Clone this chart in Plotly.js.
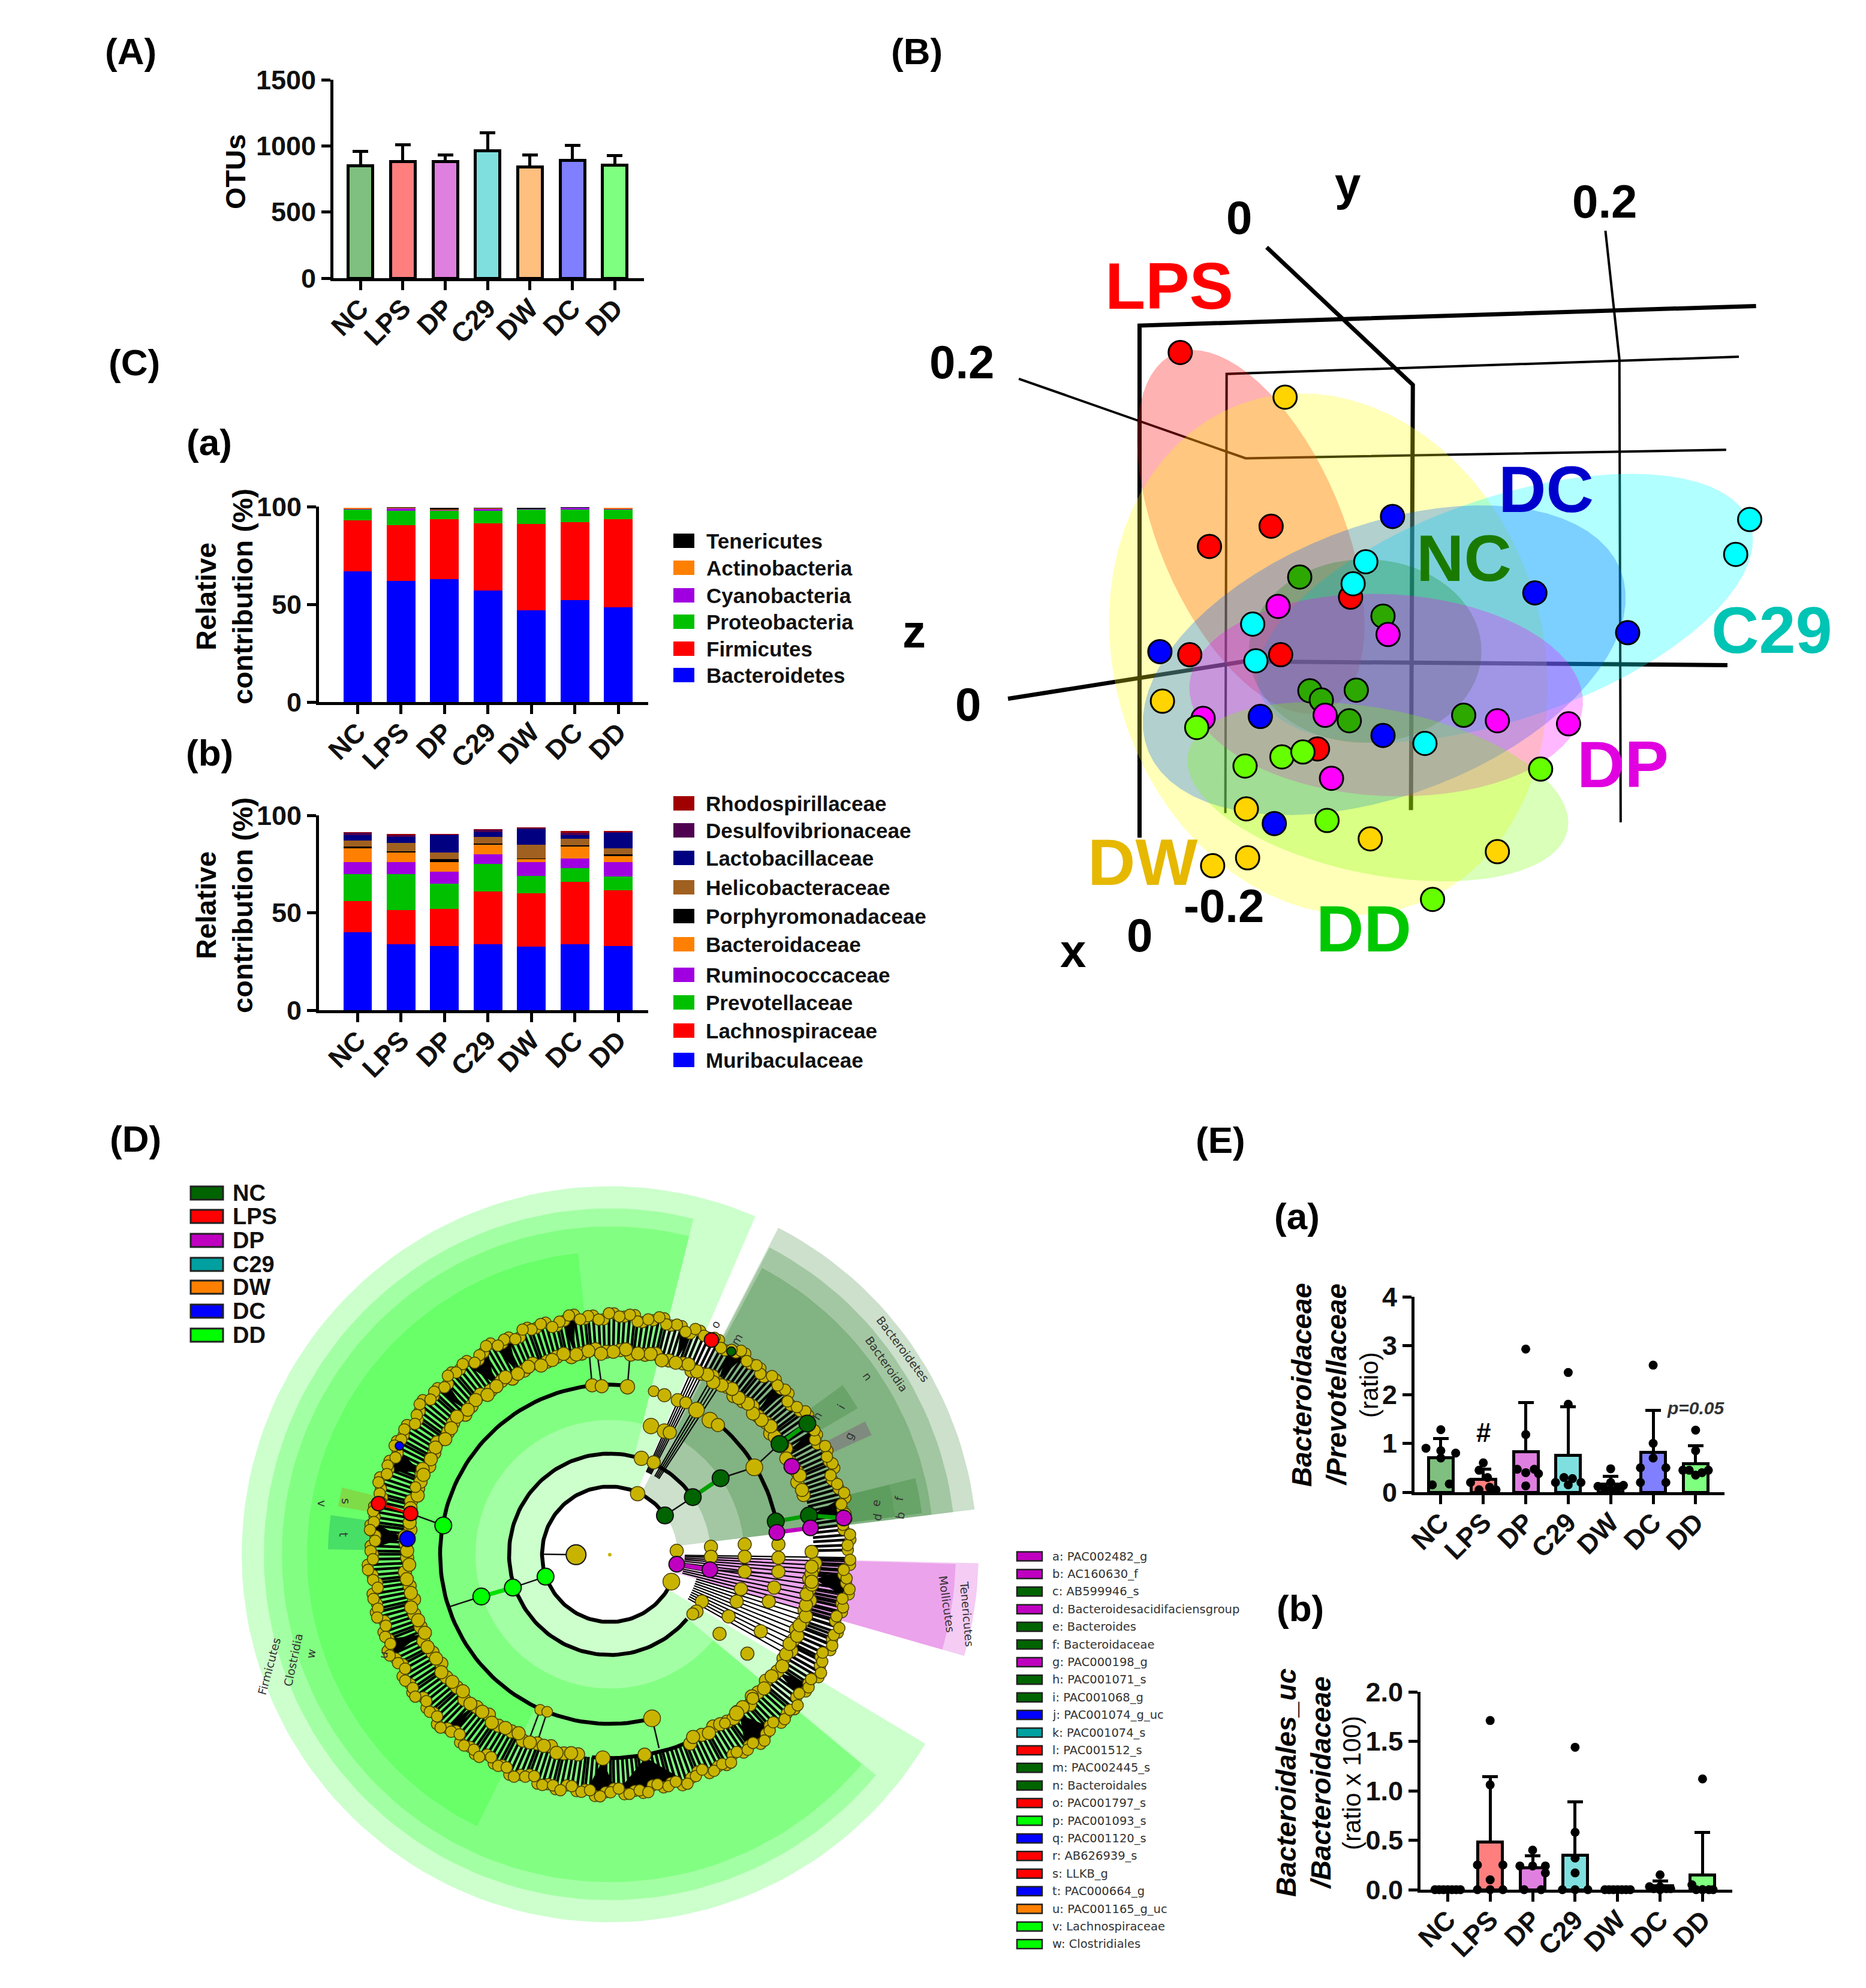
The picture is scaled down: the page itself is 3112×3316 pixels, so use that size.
<!DOCTYPE html>
<html><head><meta charset="utf-8">
<script src="https://cdn.plot.ly/plotly-3.0.1.min.js"></script>
<style>html,body{margin:0;padding:0;background:#fff}</style></head><body>
<div id="chart" style="width:3112px;height:3316px"></div>
<script>
// ---------- data ----------
const groups = ['NC','LPS','DP','C29','DW','DC','DD'];
const groupColors = ['#7fbf7f','#ff7f7f','#df7fdf','#7fdfdf','#ffbf7f','#7f7fff','#7fff7f'];
const otuMean = [850,880,880,965,840,890,855];
const otuErr = [110,130,50,135,90,115,70];

const phylumNames = ['Bacteroidetes','Firmicutes','Proteobacteria','Cyanobacteria','Actinobacteria','Tenericutes'];
const phylumColors = ['#0000ff','#ff0000','#00c000','#a000e0','#ff8000','#000000'];
const phylumValues = [
 [67,62,63,57,47,52,48.5],
 [26,28.5,30.5,34.5,44,40,45],
 [5.5,7.5,4.5,6.5,7.5,6.5,5],
 [0.4,1,0.3,0.8,0.2,0.8,0.3],
 [0.4,0.3,0.3,0.3,0.2,0.2,0.5],
 [0.1,0.4,0.8,0.2,0.5,0.2,0.2]];
const familyNames = ['Muribaculaceae','Lachnospiraceae','Prevotellaceae','Ruminococcaceae','Bacteroidaceae','Porphyromonadaceae','Helicobacteraceae','Lactobacillaceae','Desulfovibrionaceae','Rhodospirillaceae'];
const familyColors = ['#0000ff','#ff0000','#00c000','#a000e0','#ff8000','#000000','#a06020','#000080','#500050','#a00000'];
const familyValues = [
 [40,34,33,34,32.5,34,33],
 [16,17.5,19,27,27.5,32,28.5],
 [14,18.5,13,14,9,7,7],
 [6,6,6,5,7,5,7.5],
 [7,5,5,5,1.5,6,3],
 [1,0.5,1.5,0.5,0.5,0.5,1],
 [3,4.5,3.5,3.5,7,3.5,3],
 [3,3,9,2.5,8,2,8],
 [1,1,0.2,1,0.5,1,0.5],
 [0.5,0.5,0.3,0.5,0.3,1,0.5]];

const ratioAMean = [0.7,0.27,0.83,0.76,0.17,0.82,0.58];
const ratioAErr = [0.4,0.2,1.01,0.99,0.15,0.86,0.37];
const ratioADotsX = [
 [0,-0.35,0,0.35,0,-0.2,0.2],[0,-0.1,0.1,-0.3,0.3,-0.1,0.15],[0,0,-0.2,0.2,0,0.3,0],
 [0,0,-0.1,0.1,-0.3,0.3,0],[0,0,-0.3,0.3,-0.15,0.15,0],[0,0,-0.3,0.3,0,-0.3,0.3],[0,0,-0.3,0.3,0,-0.15,0.15]];
const ratioADotsY = [
 [1.28,0.9,0.85,0.8,0.7,0.15,0.17],[0.6,0.45,0.3,0.2,0.05,0.05,0.1],[2.93,1.18,0.47,0.47,0.4,0.38,0.13],
 [2.45,1.8,0.3,0.28,0.2,0.2,0.15],[0.48,0.2,0.12,0.14,0.07,0.07,0.05],[2.6,1,0.5,0.5,0.7,0.2,0.2],[1.27,0.85,0.45,0.45,0.35,0.45,0.4]];
const ratioBMean = [0.01,0.48,0.22,0.35,0.005,0.04,0.15];
const ratioBErr = [0,0.66,0.12,0.54,0,0.05,0.43];
const ratioBDotsX = [
 [-0.3,-0.2,-0.1,0,0.1,0.2,0.3],[0,0,-0.3,0.3,0,-0.3,0.3,0],[0,-0.3,0,0.3,0.3,-0.2,0.2],
 [0,0,0,0,-0.3,0,0.3],[-0.3,-0.2,-0.1,0,0.1,0.2,0.3],[0,-0.25,0,0.25,-0.15,0.15,0],[0,-0.25,0,0.25,-0.15,0.15,0]];
const ratioBDotsY = [
 [0,0,0,0,0,0,0],[1.71,1.06,0.25,0.25,0.1,0,0,0],[0.4,0.24,0.24,0.24,0.17,0,0],
 [1.44,0.58,0.32,0.17,0,0,0],[0,0,0,0,0,0,0],[0.15,0.03,0.03,0.01,0.01,0.01,0],[1.12,0.05,0,0,0,0,0]];

// PCoA points, read in the panel's own scale
const pcoaSeries = [
 {name:'LPS', color:'#ff0000', x:[489,535,632,757,504,647,705], y:[537,854,821,937,1031,1031,1185]},
 {name:'NC', color:'#2ca800', x:[677,808,693,711,766,755,935], y:[904,968,1090,1105,1089,1139,1130]},
 {name:'DC', color:'#0000ff', x:[823,1047,1193,457,615,808,637], y:[805,930,995,1026,1132,1163,1307]},
 {name:'DW', color:'#ffd400', x:[654,461,593,595,540,788,988], y:[610,1107,1283,1363,1376,1332,1353]},
 {name:'DP', color:'#ff00ff', x:[643,816,525,717,988,1100,727], y:[952,998,1135,1130,1139,1144,1233]},
 {name:'C29', color:'#00ffff', x:[1385,1363,781,761,603,608,874], y:[810,867,879,915,981,1041,1176]},
 {name:'DD', color:'#66ff00', x:[515,591,649,682,720,1056,886], y:[1150,1213,1198,1190,1302,1218,1431]}];
// centre x, centre y, half long, half short, tilt, fill
const pcoaEllipses = [
 [600,830,315,145,68,'rgba(255,0,0,0.30)'],
 [722,1030,432,338,75,'rgba(255,255,0,0.28)'],
 [1000,955,410,180,-20,'rgba(0,255,255,0.30)'],
 [810,1040,400,220,-22,'rgba(0,100,255,0.30)'],
 [780,1025,183,150,0,'rgba(0,128,0,0.25)'],
 [813,1097,310,165,3,'rgba(255,0,255,0.28)'],
 [800,1255,305,135,12,'rgba(120,255,0,0.28)']];
const pcoaFrame = [
 {w:7,x:[425,425,1395],y:[1330,493,461]},
 {w:7,x:[625,855,852],y:[365,590,1285]},
 {w:4,x:[560,562,1368],y:[1290,572,544]},
 {w:4,x:[1158,1180,1182],y:[338,548,1305]},
 {w:4,x:[235,592,1348],y:[580,710,696]},
 {w:7,x:[218,590,1350],y:[1103,1042,1048]}];
const pcoaGroupLabels = [['LPS',472,428,'#ff0000'],['DC',1065,760,'#0000cc'],['NC',935,873,'#1a7a00'],['C29',1420,990,'#00c4b4'],['DP',1185,1210,'#e000e0'],['DW',430,1370,'#e6b800'],['DD',778,1478,'#00c800']];
const pcoaAxisLabels = [['0.2',145,553],['0',155,1112],['z',70,993],['y',752,262],['0',582,317],['0.2',1157,290],['-0.2',558,1442],['0',425,1490],['x',320,1515]];

// cladogram: clade sectors  [inner r, outer r, from deg, to deg, fill]
const cladeSectors = [
 [113,614,66.7,329,'rgba(0,255,0,0.2)'],
 [168,577,76,320.3,'rgba(0,255,0,0.2)'],
 [224,547,76,320.2,'rgba(0,255,0,0.2)'],
 [282,505,96,244,'rgba(0,255,0,0.2)'],
 [113,613,7,62.7,'rgba(0,100,0,0.2)'],
 [168,577,7,62.5,'rgba(0,100,0,0.2)'],
 [224,541,7,62,'rgba(0,100,0,0.2)'],
 [113,615,-16,-1.4,'rgba(200,0,200,0.2)'],
 [168,577,-16,-1.6,'rgba(200,0,200,0.2)'],
 [400,470,172,179,'rgba(0,150,100,0.3)'],
 [400,460,166,170,'rgba(180,140,0,0.3)'],
 [405,480,30.5,36,'rgba(0,100,0,0.18)'],
 [405,480,24.5,27.5,'rgba(120,0,120,0.22)'],
 [405,480,7.5,14,'rgba(0,100,0,0.28)'],
 [480,525,7.5,14,'rgba(0,100,0,0.2)']];
// thick arcs [radius, from deg, to deg]
const cladeArcs = [[113,37,334],[168,34,320],[283,84,284],[283,14,48],[340,265,310]];
const cladeWedges = [[71,1.5],[58,2],[100,1.5],[117,2],[124,3],[156.5,3],[175.5,3],[268,3.5],[280,8],[309,4],[11,2.5],[353,3],[325,2],[135,1.5],[203,2],[228,1.5],[30,1.5],[44,1.5]];
const outerLeafAngles = [1,3.5,6,8.5,11,13.5,16,18.5,21,23,25.5,28,30,32.5,35,37,39.5,42,44,46.5,49,51,53.5,56,58,60.5,63,65.5,68,70,72.5,75,77,79.5,82,84,86.5,89,91.5,94,96,98.5,101,103,105.5,108,110,112.5,115,117,119.5,122,124,126.5,129,131,133.5,136,138,140.5,143,145,147.5,150,152,154.5,157,159,161.5,164,166,168.5,171,173,175.5,178,180,182.5,185,187,189.5,192,194,196.5,199,201,203.5,206,208,210.5,213,215,217.5,220,222,224.5,227,229,231.5,234,236,238.5,241,243,245.5,248,250,252.5,255,257,259.5,262,264,266.5,269,271,273.5,276,278,280.5,283,285,287.5,290,292,294.5,297,299,301.5,304,306,308.5,311,313,315.5,318,320,322.5,325,327,329.5,332,334,336.5,339,341,343.5,346,348,350.5,353,355,357.5,
 2.2,4.7,7.2,9.7,12.2,14.7,17.2,19.7,22.2,24.2,26.7,29.2,31.2,33.7,36.2,38.2,40.7,43.2,45.2,47.7,50.2,52.2,54.7,57.2,59.2,61.7,64.2,66.7,69.2,71.2,73.7,76.2,78.2,80.7,83.2,85.2,87.7,90.2,92.7,95.2,97.2,99.7,102.2,104.2,106.7,109.2,111.2,113.7,116.2,118.2,120.7,123.2,125.2,127.7,130.2,132.2,134.7,137.2,139.2,141.7,144.2,146.2,148.7,151.2,153.2,155.7,158.2,160.2,162.7,165.2,167.2,169.7,172.2,174.2,176.7,179.2,181.2,183.7,186.2,188.2,190.7,193.2,195.2,197.7,200.2,202.2,204.7,207.2,209.2,211.7,214.2,216.2,218.7,221.2,223.2,225.7,228.2,230.2,232.7,235.2,237.2,239.7,242.2,244.2,246.7,249.2,251.2,253.7,256.2,258.2,260.7,263.2,265.2,267.7,270.2,272.2,274.7,277.2,279.2,281.7,284.2,286.2,288.7,291.2,293.2,295.7,298.2,300.2,302.7,305.2,307.2,309.7,312.2,314.2,316.7,319.2,321.2,323.7,326.2,328.2,330.7,333.2,335.2,337.7,340.2,342.2,344.7,347.2,349.2,351.7,354.2,356.2,358.7];
const outerLeafRadii = [397,402,392,399,395,404,397,391,401];
const innerLeafAngles = [17,21,24,27,31,34,37,40,43,46,49,52,55,58,60,63,66,69,73,77,80,84,87,91,94,98,101,105,108,112,115,119,122,126,129,133,136,140,143,147,150,154,157,161,165,169,173,177,181,185,189,193,197,201,205,209,213,217,221,225,229,233,237,241,245,249,253,257,261,293,297,301,305,309,313,317,321,325,329,332,335,338,341,344,347,350,353,356,
 18.5,22.5,25.5,28.5,32.5,35.5,38.5,41.5,44.5,47.5,50.5,53.5,56.5,59,61.5,64.5,67.5,71,75,78.5,82,85.5,89,92.5,96,99.5,103,106.5,110,113.5,117,120.5,124,127.5,131,134.5,138,141.5,145,148.5,152,155.5,159,163,167,171,175,179,183,187,191,195,199,203,207,211,215,219,223,227,231,235,239,243,247,251,255,259,294.5,299,303,307,311,315,319,323,327,330.5,333.5,336.5,339.5,342.5,345.5,348.5,351.5,354.5,357.5];
const innerLeafRadii = [338,335,341,338,343];
const allClades = [
 {c:'#006400',s:28,x:[906,958,1010,1113,1175,1120,1172],y:[697,660,622,709,697,553,512]},
 {c:'#c000c0',s:26,x:[1143,1115,1178,1240,928,990],y:[598,731,722,702,795,806]},
 {c:'#00ff00',s:28,x:[683,622,563,492],y:[820,842,860,717]},
 {c:'#ff0000',s:24,x:[431,371,993],y:[693,673,344]},
 {c:'#0000ff',s:26,x:[425],y:[744]},
 {c:'#0000ff',s:14,x:[410],y:[557]},
 {c:'#006400',s:15,x:[1030],y:[367]},
 {c:'#c8b400',s:33,x:[740],y:[776]},
 {c:'#c8b400',s:6,x:[803],y:[776]}];
const midNodesX = [855,862,885,880,905,915,885,905,930,945,965,990,1005,1073,770,788,836,673,686,882,455,440,790,868,1040,1070,1018,928,918,992,992,1055,1055,1055,1118,1118,1118,1180,1180,1180,1048,1040,1025,1110,1100,1085,975,965,958,1008,1060];
const midNodesY = [653,582,590,517,527,530,447,455,465,470,485,505,515,600,435,437,438,1088,1092,1105,615,640,1185,1178,1095,1065,1115,768,830,760,780,755,780,810,755,782,810,770,800,830,845,870,900,842,870,930,870,890,895,935,975];
const midNodesS = [24,24,22,26,24,22,18,22,22,20,26,26,22,28,22,22,24,18,18,28,22,18,24,22,24,20,18,22,28,22,22,22,22,22,22,22,22,22,22,22,22,22,22,22,22,22,22,22,20,22,22];
const thinLinks = [[680,775,740,776],[906,697,958,660],[1010,622,1073,600],[1073,600,1120,553],[683,820,622,842],[563,860,505,880],[492,717,431,693],[770,435,765,375],[788,437,780,375],[836,438,840,385],[673,1088,655,1140],[686,1092,670,1145],[882,1105,895,1165],[990,806,1118,815]];
const greenLinks = [[958,660,1010,622],[1120,553,1172,512],[1113,709,1175,697],[1175,697,1240,702]];
const purpleLinks = [[1115,731,1178,722],[928,795,990,806]];
const limeLinks = [[622,842,563,860]];
const redLinks = [[431,693,371,673]];
const topLeafAngles = [57,58,59,60,62.8,63.6,64.4,65.2,66];
const lowLeafAngles = [-0.8,-1.8,-3,-4.2,-5.5,-7,-8.5,-10,-11.5,-13,-14.5,-16,-17.5,-19,-20.5,-22,-23.5,-25,-26.5,-28,-29.5];
const cladogramLabels = [
 ['Firmicutes',167,1000,-75],['Clostridia',212,987,-78],['w',245,975,-80],['u',380,977,-80],
 ['Bacteroidetes',1350,362,53],['Bacteroidia',1320,392,55],['n',1285,417,55],['i',1235,478,-60],['g',1250,537,-65],['h',1190,497,-60],
 ['f',1343,662,-80],['e',1300,672,-80],['b',1345,697,-80],['d',1303,700,-80],['Tenericutes',1470,895,85],['Mollicutes',1432,875,82],
 ['t',305,735,90],['s',310,668,90],['v',265,673,90],['m',1040,342,-60],['o',1000,312,-60]];

const cladeKeyNames = ['NC','LPS','DP','C29','DW','DC','DD'];
const cladeKeyColors = ['#006400','#ff0000','#c000c0','#00a0a0','#ff8000','#0000ff','#00ff00'];
const biomarkerNames = ['a: PAC002482_g','b: AC160630_f','c: AB599946_s','d: Bacteroidesacidifaciensgroup','e: Bacteroides','f: Bacteroidaceae','g: PAC000198_g','h: PAC001071_s','i: PAC001068_g','j: PAC001074_g_uc','k: PAC001074_s','l: PAC001512_s','m: PAC002445_s','n: Bacteroidales','o: PAC001797_s','p: PAC001093_s','q: PAC001120_s','r: AB626939_s','s: LLKB_g','t: PAC000664_g','u: PAC001165_g_uc','v: Lachnospiraceae','w: Clostridiales'];
const biomarkerColors = ['#c000c0','#c000c0','#006400','#c000c0','#006400','#006400','#c000c0','#006400','#006400','#0000ff','#00a0a0','#ff0000','#006400','#006400','#ff0000','#00ff00','#0000ff','#ff0000','#ff0000','#0000ff','#ff8000','#00ff00','#00ff00'];

// ---------- layout helpers ----------
const W=3112,H=3316,FF='Liberation Sans';
const layout={width:W,height:H,margin:{l:0,r:0,t:0,b:0},paper_bgcolor:'#fff',plot_bgcolor:'rgba(0,0,0,0)',showlegend:false,barmode:'stack',annotations:[],shapes:[],font:{family:FF,color:'#000'}};
const traces=[];
let axN=1;
function hiddenAxes(x0,x1,y0,y1,xr,yr){
  const n=axN++;
  layout['xaxis'+(n===1?'':n)]={domain:[x0/W,x1/W],range:xr,visible:false,fixedrange:true,anchor:'y'+(n===1?'':n)};
  layout['yaxis'+(n===1?'':n)]={domain:[1-y1/H,1-y0/H],range:yr,visible:false,fixedrange:true,anchor:'x'+(n===1?'':n)};
  return {x:'x'+(n===1?'':n),y:'y'+(n===1?'':n)};
}
function chartAxes(x0,x1,y0,y1,xr,yr,dtick,fmt){
  const n=axN++;
  const common={showgrid:false,zeroline:false,showline:true,linecolor:'#000',linewidth:5,ticks:'outside',ticklen:15,tickwidth:5,tickcolor:'#000',fixedrange:true,tickfont:{family:FF,size:45,weight:700,color:'#111'}};
  layout['xaxis'+n]=Object.assign({},common,{domain:[x0/W,x1/W],range:xr,anchor:'y'+n,tickmode:'array',tickvals:groups.map((g,i)=>i),ticktext:groups,tickangle:-45,ticklabelstandoff:-14});
  layout['yaxis'+n]=Object.assign({},common,{domain:[1-y1/H,1-y0/H],range:yr,anchor:'x'+n,dtick:dtick,tickformat:fmt||''});
  return {x:'x'+n,y:'y'+n};
}
const idx=groups.map((g,i)=>i);
const page=hiddenAxes(0,W,0,H,[0,W],[H,0]);
function note(text,x,y,size,opts){
  layout.annotations.push(Object.assign({text:text,x:x,y:y,xref:page.x,yref:page.y,showarrow:false,xanchor:'center',yanchor:'middle',font:{family:FF,size:size,color:'#000'}},opts||{}));
}
// panel letters
[['(A)',218,85],['(B)',1529,85],['(C)',224,604],['(a)',349,737],['(b)',349,1255],['(D)',226,1899],['(E)',2035,1901],['(a)',2163,2028],['(b)',2168,2682]]
 .forEach(l=>note('<b>'+l[0]+'</b>',l[1],l[2],62));

// ---------- panel A ----------
const a=chartAxes(556,1074,133,464,[-0.64,6.69],[0,1500],500);
traces.push({type:'bar',x:idx,y:otuMean,width:0.58,xaxis:a.x,yaxis:a.y,marker:{color:groupColors,line:{color:'#000',width:5}},error_y:{type:'data',symmetric:false,array:otuErr,arrayminus:otuErr.map(()=>0),color:'#000',thickness:5,width:13}});
note('<b>OTUs</b>',392,287,47,{textangle:-90});

// ---------- panel C ----------
function stacked(names,colors,values,ax){
  names.forEach((n,i)=>traces.push({type:'bar',name:n,x:idx,y:values[i],width:0.66,xaxis:ax.x,yaxis:ax.y,marker:{color:colors[i],line:{width:0}}}));
}
const ca=chartAxes(532,1081,845,1171,[-0.89,6.69],[0,100],50);
const cb=chartAxes(532,1081,1360,1685,[-0.89,6.69],[0,100],50);
stacked(phylumNames,phylumColors,phylumValues,ca);
stacked(familyNames,familyColors,familyValues,cb);
note('<b>Relative<br>contribution (%)</b>',374,995,47,{textangle:-90});
note('<b>Relative<br>contribution (%)</b>',374,1510,47,{textangle:-90});
function key(names,colors,xs,xe,xt,ys,h,size,extra){
  names.forEach((n,i)=>{
    layout.shapes.push({type:'rect',xref:page.x,yref:page.y,x0:xs,x1:xe,y0:ys[i]-h/2,y1:ys[i]+h/2,fillcolor:colors[i],line:extra||{width:0}});
    note(n,xt,ys[i],size,{xanchor:'left',font:{family:extra&&extra.fam||FF,size:size,color:extra&&extra.tc||'#111'}});
  });
}
const phylumRowY=[902,947,993,1037,1082,1126];
const familyRowY=[1340,1385,1431,1480,1528,1575,1626,1672,1719,1768];
key(phylumNames.map(n=>'<b>'+n+'</b>').reverse(),phylumColors.slice().reverse(),1123,1158,1176,phylumRowY,24,35);
key(familyNames.map(n=>'<b>'+n+'</b>').reverse(),familyColors.slice().reverse(),1123,1158,1175,familyRowY,24,35);

// ---------- panel B ----------
const b=hiddenAxes(1450,3112,40,1640,[0,1568],[1568,0]);
pcoaFrame.forEach(f=>traces.push({type:'scatter',mode:'lines',x:f.x,y:f.y,line:{color:'#000',width:f.w},xaxis:b.x,yaxis:b.y,hoverinfo:'skip'}));
pcoaEllipses.forEach(e=>{
  const ex=[],ey=[],t=e[4]*Math.PI/180;
  for(let k=0;k<=72;k++){const p=k*Math.PI/36,u=e[2]*Math.cos(p),v=e[3]*Math.sin(p);ex.push(e[0]+u*Math.cos(t)-v*Math.sin(t));ey.push(e[1]+u*Math.sin(t)+v*Math.cos(t));}
  traces.push({type:'scatter',mode:'lines',x:ex,y:ey,fill:'toself',fillcolor:e[5],line:{width:0},xaxis:b.x,yaxis:b.y,hoverinfo:'skip'});
});
pcoaSeries.forEach(s=>traces.push({type:'scatter',mode:'markers',name:s.name,x:s.x,y:s.y,marker:{size:39,color:s.color,line:{color:'#000',width:3}},xaxis:b.x,yaxis:b.y}));
pcoaGroupLabels.forEach(l=>layout.annotations.push({text:'<b>'+l[0]+'</b>',x:l[1],y:l[2],xref:b.x,yref:b.y,showarrow:false,font:{family:FF,size:110,color:l[3]}}));
pcoaAxisLabels.forEach(l=>layout.annotations.push({text:'<b>'+l[0]+'</b>',x:l[1],y:l[2],xref:b.x,yref:b.y,showarrow:false,font:{family:FF,size:78,color:'#000'}}));

// ---------- panel D ----------
const d=hiddenAxes(300,1700,1950,3250,[0,1568],[1568,0]);
const CX=803,CY=775,SX=1.12,SY=1.206;
const px=(r,deg)=>CX+r*SX*Math.cos(deg*Math.PI/180);
const py=(r,deg)=>CY-r*SY*Math.sin(deg*Math.PI/180);
function dLine(xs,ys,color,w){traces.push({type:'scatter',mode:'lines',x:xs,y:ys,line:{color:color,width:w},xaxis:d.x,yaxis:d.y,hoverinfo:'skip',connectgaps:false});}
cladeSectors.forEach(s=>{
  const xs=[],ys=[],n=Math.max(4,Math.ceil(Math.abs(s[3]-s[2])/2));
  for(let k=0;k<=n;k++){const g=s[2]+(s[3]-s[2])*k/n;xs.push(px(s[1],g));ys.push(py(s[1],g));}
  for(let k=n;k>=0;k--){const g=s[2]+(s[3]-s[2])*k/n;xs.push(px(s[0],g));ys.push(py(s[0],g));}
  xs.push(xs[0]);ys.push(ys[0]);
  traces.push({type:'scatter',mode:'lines',x:xs,y:ys,fill:'toself',fillcolor:s[4],line:{width:0},xaxis:d.x,yaxis:d.y,hoverinfo:'skip'});
});
cladeArcs.forEach(arc=>{
  const xs=[],ys=[];
  for(let g=arc[1];g<=arc[2];g+=2){xs.push(px(arc[0],g));ys.push(py(arc[0],g));}
  dLine(xs,ys,'#000',6.5);
});
// radial leaves
(function(){
  let xs=[],ys=[];
  const nR=outerLeafRadii.length;
  outerLeafAngles.forEach((g,i)=>{xs.push(px(340,g),px(outerLeafRadii[i%nR],g),null);ys.push(py(340,g),py(outerLeafRadii[i%nR],g),null);});
  dLine(xs,ys,'#000',4.5);
  xs=[];ys=[];
  topLeafAngles.forEach(g=>{xs.push(px(150,g),px(340,g),null);ys.push(py(150,g),py(340,g),null);});
  lowLeafAngles.forEach(g=>{const st=g>-16?125:150;xs.push(px(st,g),px(397,g),null);ys.push(py(st,g),py(397,g),null);});
  dLine(xs,ys,'#000',2.2);
  cladeWedges.forEach(w=>{
    traces.push({type:'scatter',mode:'lines',x:[px(345,w[0]),px(396,w[0]-w[1]),px(396,w[0]+w[1]),px(345,w[0])],y:[py(345,w[0]),py(396,w[0]-w[1]),py(396,w[0]+w[1]),py(345,w[0])],fill:'toself',fillcolor:'#000',line:{color:'#000',width:1},xaxis:d.x,yaxis:d.y,hoverinfo:'skip'});
  });
})();
function links(list,color,w){const xs=[],ys=[];list.forEach(l=>{xs.push(l[0],l[2],null);ys.push(l[1],l[3],null);});dLine(xs,ys,color,w);}
links(thinLinks,'#111',2.5);links(greenLinks,'#00a000',7);links(purpleLinks,'#c000c0',7);links(limeLinks,'#00e000',7);links(redLinks,'#e00000',4);
const nodeLine={color:'#4a4000',width:1.5};
const nI=innerLeafRadii.length, nO=outerLeafRadii.length;
traces.push({type:'scatter',mode:'markers',x:innerLeafAngles.map((g,i)=>px(innerLeafRadii[i%nI],g)),y:innerLeafAngles.map((g,i)=>py(innerLeafRadii[i%nI],g)),marker:{size:22,color:'#c8b400',opacity:1,line:nodeLine},xaxis:d.x,yaxis:d.y,hoverinfo:'skip'});
traces.push({type:'scatter',mode:'markers',x:outerLeafAngles.map((g,i)=>px(outerLeafRadii[i%nO],g)),y:outerLeafAngles.map((g,i)=>py(outerLeafRadii[i%nO],g)),marker:{size:19,color:'#c8b400',opacity:1,line:nodeLine},xaxis:d.x,yaxis:d.y,hoverinfo:'skip'});
traces.push({type:'scatter',mode:'markers',x:midNodesX,y:midNodesY,marker:{size:midNodesS,color:'#c8b400',opacity:1,line:nodeLine},xaxis:d.x,yaxis:d.y,hoverinfo:'skip'});
allClades.forEach(c=>traces.push({type:'scatter',mode:'markers',x:c.x,y:c.y,marker:{size:c.s,color:c.c,opacity:1,line:{color:'#111',width:c.s>10?2:0}},xaxis:d.x,yaxis:d.y,hoverinfo:'skip'}));
cladogramLabels.forEach(l=>layout.annotations.push({text:l[0],x:l[1],y:l[2],xref:d.x,yref:d.y,showarrow:false,textangle:l[3],font:{family:'DejaVu Sans',size:19,color:'#333'}}));
const keyRowY=[1990,2029,2069,2109,2147,2187,2227];
key(cladeKeyNames.map(n=>'<b>'+n+'</b>'),cladeKeyColors,318,372,386,keyRowY,22,38,{color:'#222',width:3});
const bioRowY=biomarkerNames.map((n,i)=>2596+i*29.4);
key(biomarkerNames,biomarkerColors,1696,1738,1753,bioRowY,15,19.5,{color:'#222',width:2.5,fam:'DejaVu Sans',tc:'#333'});

// ---------- panel E ----------
function ratioPanel(ax,means,errs,dx,dy){
  traces.push({type:'bar',x:idx,y:means,width:0.58,xaxis:ax.x,yaxis:ax.y,marker:{color:groupColors,line:{color:'#000',width:5}},error_y:{type:'data',symmetric:false,array:errs,arrayminus:errs.map(()=>0),color:'#000',thickness:5,width:13}});
  const xs=[],ys=[];
  dx.forEach((row,i)=>row.forEach((o,k)=>{xs.push(i+o);ys.push(dy[i][k]);}));
  traces.push({type:'scatter',mode:'markers',x:xs,y:ys,marker:{size:15,color:'#000'},xaxis:ax.x,yaxis:ax.y,cliponaxis:false});
}
const ea=chartAxes(2359,2876,2163,2489,[-0.62,6.68],[0,4],1);
const eb=chartAxes(2369,2889,2822,3152,[-0.64,6.7],[0,2],0.5,'.1f');
ratioPanel(ea,ratioAMean,ratioAErr,ratioADotsX,ratioADotsY);
ratioPanel(eb,ratioBMean,ratioBErr,ratioBDotsX,ratioBDotsY);
note('<b><i>Bacteroidaceae</i></b>',2171,2310,46,{textangle:-90});
note('<b><i>/Prevotellaceae</i></b>',2229,2310,46,{textangle:-90});
note('(ratio)',2283,2310,42,{textangle:-90});
note('<b><i>p=0.05</i></b>',2828,2348,30,{font:{family:FF,size:30,color:'#333'}});
note('<b>#</b>',2474,2389,44);
note('<b><i>Bacteroidales_uc</i></b>',2145,2974,46,{textangle:-90});
note('<b><i>/Bacteroidaceae</i></b>',2203,2974,46,{textangle:-90});
note('(ratio x 100)',2254,2974,42,{textangle:-90});

Plotly.newPlot('chart',traces,layout,{staticPlot:true,displayModeBar:false});
</script></body></html>
